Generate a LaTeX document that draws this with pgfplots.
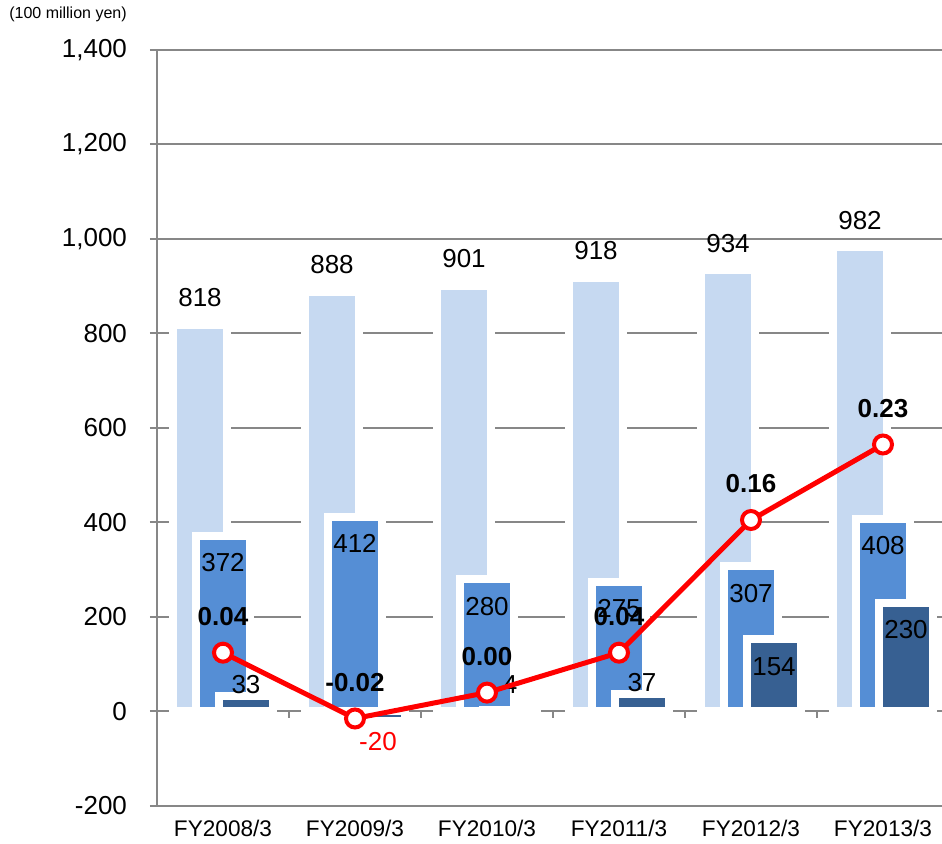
\documentclass[border=0pt]{standalone}
\usepackage{pgfplots}
\pgfplotsset{compat=1.18}
\usepackage{pgfplotstable}
\usepackage{fontspec}
\setmainfont{Liberation Sans}

\definecolor{barlight}{HTML}{C6D9F1}
\definecolor{barmid}{HTML}{558ED5}
\definecolor{bardark}{HTML}{376092}
\definecolor{gridgray}{HTML}{878787}

% light bars
\pgfplotstableread{
x y
0 818
1 888
2 901
3 918
4 934
5 982
}\totaltab

% middle bars
\pgfplotstableread{
x y
0 372
1 412
2 280
3 275
4 307
5 408
}\midtab

% dark bars, dy = label offset in pt
\pgfplotstableread{
x y dy
0 33 5.5
1 -20 -10.5
2 4 12.5
3 37 5.5
4 154 -14
5 230 -13.5
}\darktab

% ratio line (right, hidden scale)
\pgfplotstableread{
x y
0 0.037
1 -0.024
2 0.000
3 0.037
4 0.160
5 0.230
}\ratiotab

\begin{document}
\begin{tikzpicture}
\begin{axis}[
  at={(0,0)}, anchor=south west,
  scale only axis, width=396pt, height=378pt,
  xmin=-0.5, xmax=5.5, ymin=-200, ymax=1400,
  ybar, bar width=27pt,
  axis lines*=left,
  axis line style={-, draw=gridgray, line width=1.2pt},
  ymajorgrids, grid style={draw=gridgray, line width=1pt},
  ytick={-200,0,...,1400},
  xtick={0,...,5},
  xticklabels={FY2008/3,FY2009/3,FY2010/3,FY2011/3,FY2012/3,FY2013/3},
  x tick style={draw=none},
  y tick style={draw=gridgray, line width=1pt},
  tick align=outside, major tick length=3.5pt,
  yticklabel style={font=\fontsize{13}{15}\selectfont, xshift=-8pt},
  xticklabel style={font=\fontsize{11.3}{13}\selectfont},
  /pgf/number format/.cd, 1000 sep={,}, assume math mode=true,
]
\addplot[fill=barlight, draw=white, line width=4pt, bar shift=-11.5pt,
  nodes near coords,
  every node near coord/.append style={text=black, anchor=center, yshift=13.5pt,
    font=\fontsize{13}{15}\selectfont}]
  table {\totaltab};
\addplot[fill=barmid, draw=white, line width=4pt, bar shift=0pt,
  nodes near coords,
  every node near coord/.append style={text=black, anchor=center, yshift=-13.5pt,
    font=\fontsize{13}{15}\selectfont}]
  table {\midtab};
\addplot[fill=bardark, draw=white, line width=4pt, bar shift=11.5pt,
  visualization depends on={\thisrow{dy} \as \dy},
  nodes near coords,
  every node near coord/.append style={anchor=center, yshift=\dy pt,
    font=\fontsize{13}{15}\selectfont},
  coordinate style/.condition={y<0}{text=red}]
  table {\darktab};
\pgfplotsinvokeforeach{0.5,1.5,2.5,3.5,4.5}{
  \draw[gridgray, line width=1pt] (axis cs:#1,0) -- ++(0pt,-3.5pt);
}
\end{axis}

\begin{axis}[
  at={(0,0)}, anchor=south west,
  scale only axis, width=396pt, height=378pt,
  xmin=-0.5, xmax=5.5, ymin=-0.10512, ymax=0.59571,
  hide axis,
]
\addplot[red, line width=2.5pt, mark=*, mark size=4.5pt,
  mark options={fill=white, draw=red, line width=2pt},
  nodes near coords={\pgfmathprintnumber[fixed, zerofill, precision=2, assume math mode=true]{\pgfplotspointmeta}},
  every node near coord/.append style={text=black, anchor=center, yshift=18pt,
    font=\fontsize{13}{15}\selectfont\bfseries}]
  table {\ratiotab};
\end{axis}

\node[font=\fontsize{8}{9}\selectfont] at (-44.5pt,396pt) {(100 million yen)};

\pgfresetboundingbox
\path (-78.5pt,-19pt) rectangle (392.5pt,403pt);
\end{tikzpicture}
\end{document}
